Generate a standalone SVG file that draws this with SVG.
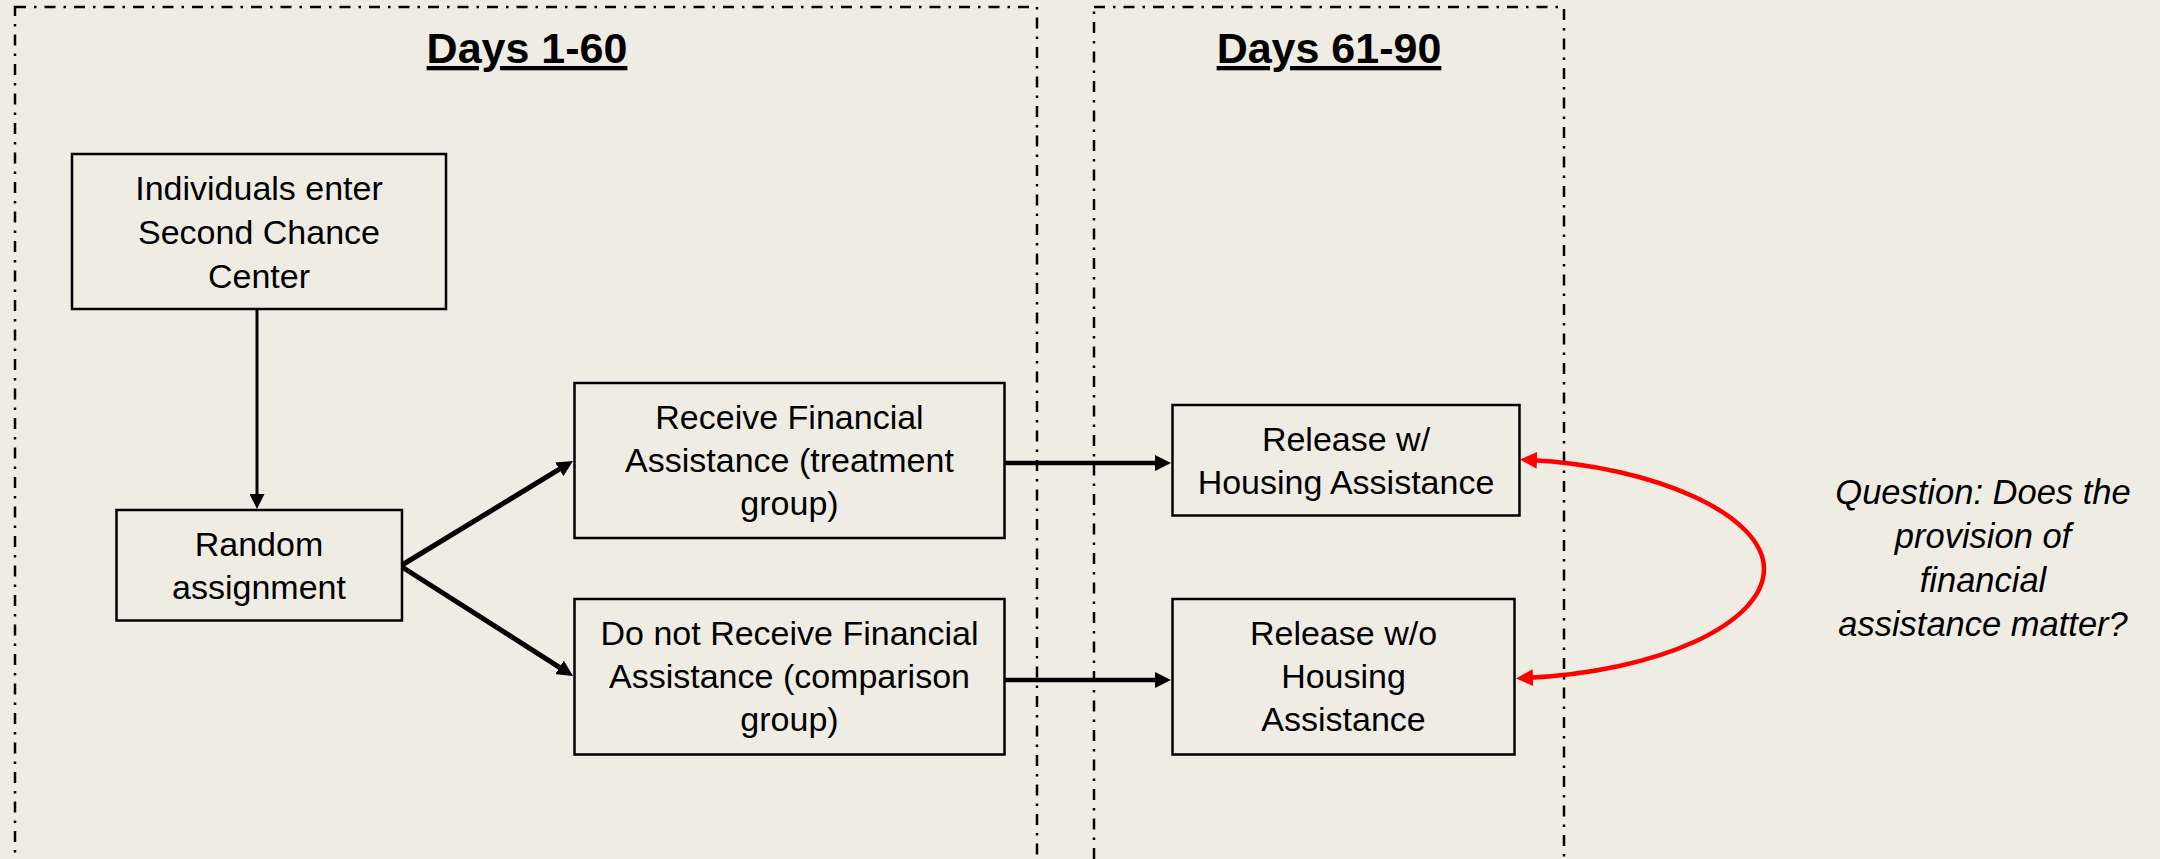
<svg xmlns="http://www.w3.org/2000/svg" width="2160" height="859" viewBox="0 0 2160 859">
  <defs>
    <style>
      .panel { fill: none; stroke: #000; stroke-width: 2.5; stroke-dasharray: 11 8 2.5 8; }
      .title { font-family: "Liberation Sans", Arial, sans-serif; font-size: 43px; font-weight: bold; text-anchor: middle; text-decoration: underline; fill: #000; }
      .box { fill: none; stroke: #000; stroke-width: 2.5; }
      .lbl { font-family: "Liberation Sans", Arial, sans-serif; font-size: 34px; text-anchor: middle; fill: #000; }
      .q { font-family: "Liberation Sans", Arial, sans-serif; font-size: 34.5px; font-style: italic; text-anchor: middle; fill: #000; }
      .conn { fill: none; stroke: #000; }
      .red { fill: none; stroke: #ff0000; stroke-width: 4.5; }
    </style>
    <marker id="ah" markerUnits="userSpaceOnUse" markerWidth="16" markerHeight="16" refX="6" refY="8" orient="auto">
      <path d="M0,0 L16,8 L0,16 z" fill="#000"/>
    </marker>
    <marker id="ahs" markerUnits="userSpaceOnUse" markerWidth="15" markerHeight="15" refX="5" refY="7.5" orient="auto">
      <path d="M0,0 L15,7.5 L0,15 z" fill="#000"/>
    </marker>
    <marker id="rh" markerUnits="userSpaceOnUse" markerWidth="17" markerHeight="17" refX="8" refY="8.5" orient="auto-start-reverse">
      <path d="M0,0 L17,8.5 L0,17 z" fill="#ff0000"/>
    </marker>
  </defs>

  <rect x="0" y="0" width="2160" height="859" fill="#EFECE4"/>

  <g id="panel-days-1-60">
    <rect class="panel" x="15" y="7" width="1022" height="900"/>
    <text class="title" x="527" y="63">Days 1-60</text>
  </g>
  <g id="panel-days-61-90">
    <rect class="panel" x="1094" y="7" width="470" height="900"/>
    <text class="title" x="1329" y="63">Days 61-90</text>
  </g>

  <g id="node-enter">
    <rect class="box" x="72" y="154" width="374" height="155"/>
    <text class="lbl" x="259" y="200">Individuals enter</text>
    <text class="lbl" x="259" y="244">Second Chance</text>
    <text class="lbl" x="259" y="288">Center</text>
  </g>
  <g id="node-random">
    <rect class="box" x="116.5" y="510" width="285.5" height="110.5"/>
    <text class="lbl" x="259" y="556">Random</text>
    <text class="lbl" x="259" y="599">assignment</text>
  </g>
  <g id="node-treatment">
    <rect class="box" x="574.5" y="383" width="430" height="155"/>
    <text class="lbl" x="789.5" y="429">Receive Financial</text>
    <text class="lbl" x="789.5" y="472">Assistance (treatment</text>
    <text class="lbl" x="789.5" y="515">group)</text>
  </g>
  <g id="node-comparison">
    <rect class="box" x="574.5" y="599" width="430" height="155.5"/>
    <text class="lbl" x="789.5" y="645">Do not Receive Financial</text>
    <text class="lbl" x="789.5" y="688">Assistance (comparison</text>
    <text class="lbl" x="789.5" y="731">group)</text>
  </g>
  <g id="node-release-with">
    <rect class="box" x="1172.5" y="405" width="347" height="110.5"/>
    <text class="lbl" x="1346" y="451">Release w/</text>
    <text class="lbl" x="1346" y="494">Housing Assistance</text>
  </g>
  <g id="node-release-without">
    <rect class="box" x="1172.5" y="599" width="342" height="155.5"/>
    <text class="lbl" x="1343.5" y="645">Release w/o</text>
    <text class="lbl" x="1343.5" y="688">Housing</text>
    <text class="lbl" x="1343.5" y="731">Assistance</text>
  </g>
  <g id="node-question">
    <text class="q" x="1983" y="504">Question: Does the</text>
    <text class="q" x="1983" y="548">provision of</text>
    <text class="q" x="1983" y="592">financial</text>
    <text class="q" x="1983" y="636">assistance matter?</text>
  </g>

  <g id="connectors">
    <line class="conn" x1="257" y1="309" x2="257" y2="499" stroke-width="3" marker-end="url(#ahs)"/>
    <line class="conn" x1="402" y1="565" x2="564.4" y2="466.2" stroke-width="5" marker-end="url(#ah)"/>
    <line class="conn" x1="402" y1="567" x2="564.6" y2="670.6" stroke-width="5" marker-end="url(#ah)"/>
    <line class="conn" x1="1004.5" y1="463" x2="1161" y2="463" stroke-width="4.5" marker-end="url(#ah)"/>
    <line class="conn" x1="1004.5" y1="680" x2="1161" y2="680" stroke-width="4.5" marker-end="url(#ah)"/>
    <path class="red" d="M1529,460 C1655,466 1764,515 1764,569 C1764,623 1660,672 1525,678" marker-start="url(#rh)" marker-end="url(#rh)"/>
  </g>
</svg>
